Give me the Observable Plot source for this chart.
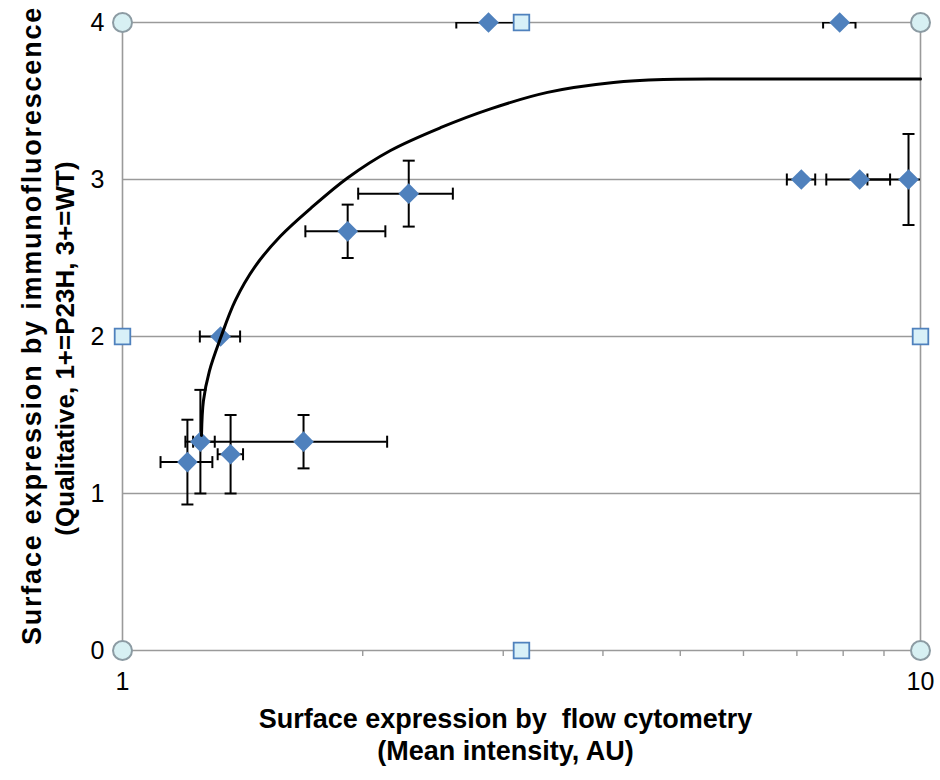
<!DOCTYPE html>
<html>
<head>
<meta charset="utf-8">
<script src="https://cdn.jsdelivr.net/npm/d3@7"></script>
<script src="https://cdn.jsdelivr.net/npm/@observablehq/plot@0.6"></script>
<style>
  html, body { margin: 0; padding: 0; background: #fff; }
  #chart svg { display: block; }
</style>
</head>
<body>
<div id="chart"></div>
<script>
// ---- data ----
const ptX  = [1.206, 1.252, 1.366, 1.686, 1.327, 1.915, 2.284, 7.09, 8.39, 9.66, 2.875, 7.92];
const ptY  = [1.20, 1.33, 1.25, 1.33, 2.00, 2.67, 2.91, 3.00, 3.00, 3.00, 4.00, 4.00];
const errX = [0.09, 0.053, 0.05, 0.46, 0.077, 0.22, 0.31, 0.29, 0.77, 1.08, 0.255, 0.37];
const errY = [0.27, 0.33, 0.25, 0.17, 0, 0.17, 0.21, 0, 0, 0.29, 0, 0];

const curveX = [1.256, 1.263, 1.285, 1.327, 1.385, 1.468, 1.578, 1.720, 1.914, 2.167, 2.503, 2.892, 3.409, 4.124, 4.764, 6.0, 10];
const curveY = [1.37, 1.59, 1.78, 1.99, 2.23, 2.45, 2.64, 2.815, 3.01, 3.185, 3.33, 3.45, 3.555, 3.618, 3.637, 3.64, 3.64];

const circX = [1, 1, 10, 10];
const circY = [0, 4, 0, 4];
const sqX = [1, 10, 3.162, 3.162];
const sqY = [2, 2, 0, 4];

const xTicks = [1, 10];
const xMinor = [2, 3, 4, 5, 6, 7, 8, 9];
const yTicks = [0, 1, 2, 3, 4];

const xTitle1 = "Surface expression by  flow cytometry";
const xTitle2 = "(Mean intensity, AU)";
const yTitle1 = "Surface expression by immunofluorescence";
const yTitle2 = "(Qualitative, 1+=P23H, 3+=WT)";

// ---- derived tables ----
const pts = ptX.map((x, i) => ({x, y: ptY[i], ex: errX[i], ey: errY[i]}));
const vBars = pts.filter(d => d.ey > 0);
const hBars = pts.filter(d => d.ex > 0);
const curve = curveX.map((x, i) => ({x, y: curveY[i]}));
const circles = circX.map((x, i) => ({x, y: circY[i]}));
const squares = sqX.map((x, i) => ({x, y: sqY[i]}));

const hCap = {draw(ctx, size) { const r = Math.sqrt(size / Math.PI); ctx.moveTo(-r, 0); ctx.lineTo(r, 0); }};
const vCap = {draw(ctx, size) { const r = Math.sqrt(size / Math.PI); ctx.moveTo(0, -r); ctx.lineTo(0, r); }};

const gridColor = "#9a9a9a";
const font = "'Liberation Sans', Arial, sans-serif";

const chart = Plot.plot({
  width: 940,
  height: 780,
  marginLeft: 122,
  marginRight: 20,
  marginTop: 22,
  marginBottom: 130,
  style: {fontFamily: font, background: "#fff", color: "#000", overflow: "visible"},
  x: {type: "log", domain: [1, 10]},
  y: {domain: [0, 4]},
  marks: [
    Plot.ruleY(yTicks, {y: d => d, stroke: gridColor, strokeWidth: 1.6}),
    Plot.ruleX(xTicks, {x: d => d, stroke: gridColor, strokeWidth: 1.6}),
    Plot.axisX({ticks: xMinor, tickSize: 6, tickFormat: () => "", stroke: gridColor, strokeWidth: 1.4, label: null}),
    Plot.axisX({ticks: xTicks, tickSize: 0, tickPadding: 22, tickFormat: d => String(d), fontSize: 25, label: null}),
    Plot.axisY({ticks: yTicks, tickSize: 0, tickPadding: 18, tickFormat: d => String(d), fontSize: 25, label: null}),
    // error bars
    Plot.ruleX(vBars, {x: "x", y1: d => d.y - d.ey, y2: d => d.y + d.ey, stroke: "#000", strokeWidth: 2}),
    Plot.dot(vBars, {x: "x", y: d => d.y - d.ey, symbol: hCap, r: 6, stroke: "#000", strokeWidth: 2, fill: "none"}),
    Plot.dot(vBars, {x: "x", y: d => d.y + d.ey, symbol: hCap, r: 6, stroke: "#000", strokeWidth: 2, fill: "none"}),
    Plot.ruleY(hBars, {y: "y", x1: d => d.x - d.ex, x2: d => d.x + d.ex, stroke: "#000", strokeWidth: 2, clip: true}),
    Plot.dot(hBars, {x: d => d.x - d.ex, y: "y", symbol: vCap, r: 6, stroke: "#000", strokeWidth: 2, fill: "none", clip: true}),
    Plot.dot(hBars, {x: d => d.x + d.ex, y: "y", symbol: vCap, r: 6, stroke: "#000", strokeWidth: 2, fill: "none", clip: true}),
    // data points
    Plot.dot(pts, {x: "x", y: "y", symbol: "diamond2", r: 9.3, fill: "#4f81bd", stroke: "none"}),
    // fitted curve
    Plot.line(curve, {x: "x", y: "y", curve: "catmull-rom", stroke: "#000", strokeWidth: 3}),
    // frame markers
    Plot.dot(circles, {x: "x", y: "y", r: 9.5, fill: "#d7f0f3", stroke: "#8c9ba3", strokeWidth: 2}),
    Plot.dot(squares, {x: "x", y: "y", symbol: "square", r: 8.8, fill: "#d8f0f8", stroke: "#4f81bd", strokeWidth: 1.8}),
    // titles
    Plot.text([xTitle1], {text: d => d, frameAnchor: "bottom", dx: -16, dy: 77, fontSize: 27, fontWeight: "bold", lineAnchor: "bottom", fill: "#000"}),
    Plot.text([xTitle2], {text: d => d, frameAnchor: "bottom", dx: -16, dy: 109, fontSize: 27, fontWeight: "bold", lineAnchor: "bottom", fill: "#000"}),
    Plot.text([yTitle1], {text: d => d, frameAnchor: "left", textAnchor: "middle", rotate: -90, dx: -90, dy: -11, fontSize: 27, fontWeight: "bold", fill: "#000"}),
    Plot.text([yTitle2], {text: d => d, frameAnchor: "left", textAnchor: "middle", rotate: -90, dx: -57, dy: 12, fontSize: 26, fontWeight: "bold", fill: "#000"})
  ]
});
// wider letter spacing on the long vertical title, as in the reference
d3.select(chart).selectAll("text")
  .filter(function() { return this.textContent === yTitle1; })
  .attr("letter-spacing", "1.8px");
document.getElementById("chart").appendChild(chart);
</script>
</body>
</html>
